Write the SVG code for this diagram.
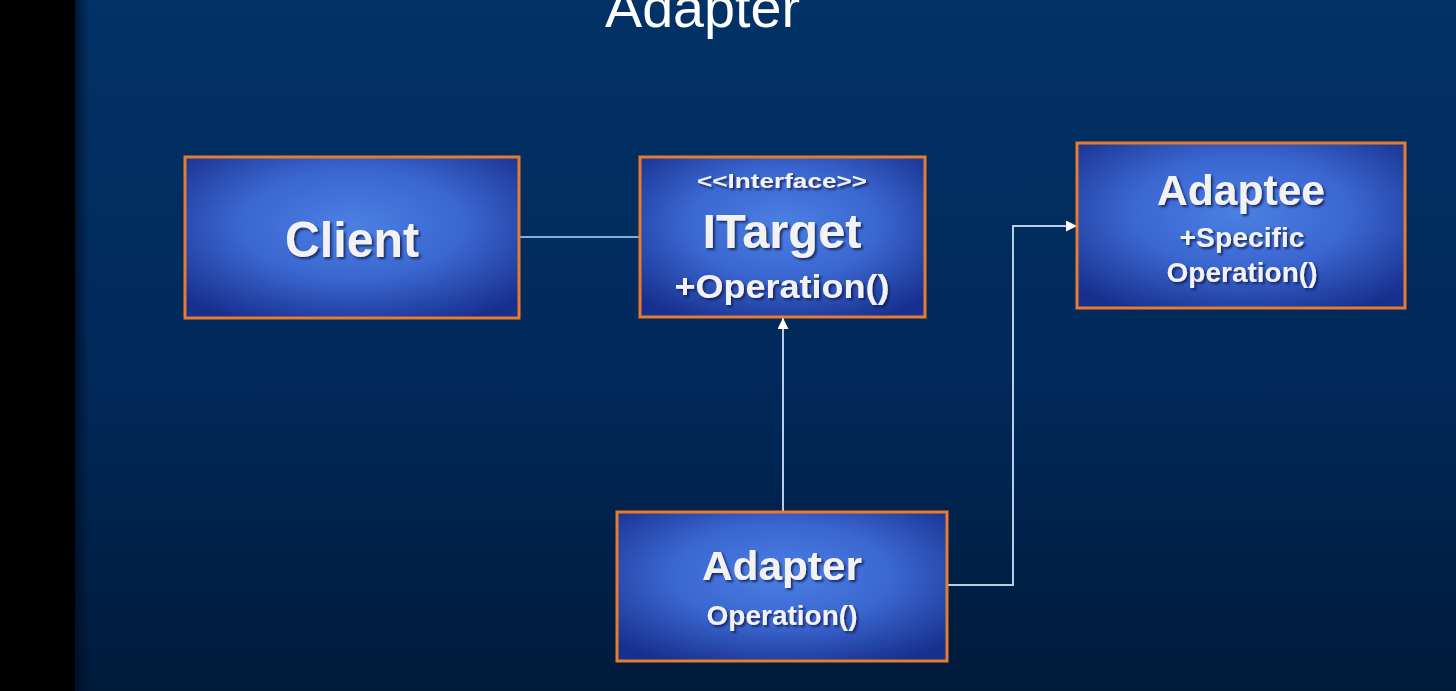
<svg xmlns="http://www.w3.org/2000/svg" width="1456" height="691" viewBox="0 0 1456 691">
  <defs>
    <linearGradient id="bg" x1="0" y1="0" x2="0" y2="1">
      <stop offset="0" stop-color="#023266"/>
      <stop offset="0.55" stop-color="#01295a"/>
      <stop offset="1" stop-color="#001a3a"/>
    </linearGradient>
    <linearGradient id="edge" x1="0" y1="0" x2="1" y2="0">
      <stop offset="0" stop-color="#000c20" stop-opacity="0.7"/>
      <stop offset="1" stop-color="#000c20" stop-opacity="0"/>
    </linearGradient>
    <radialGradient id="boxfill" cx="0.5" cy="0.42" r="0.68">
      <stop offset="0" stop-color="#4c80e3"/>
      <stop offset="0.5" stop-color="#3a66d0"/>
      <stop offset="1" stop-color="#17308e"/>
    </radialGradient>
    <filter id="shadow" x="-10%" y="-20%" width="120%" height="150%">
      <feDropShadow dx="2" dy="2" stdDeviation="1.2" flood-color="#0a1a50" flood-opacity="0.8"/>
    </filter>
    <marker id="arrow" viewBox="0 0 10 10" refX="10" refY="5" markerWidth="11" markerHeight="11" markerUnits="userSpaceOnUse" orient="auto">
      <path d="M0,0 L10,5 L0,10 Z" fill="#ffffff"/>
    </marker>
    <style>
      .box { fill: url(#boxfill); stroke: #e77b2e; stroke-width: 3; }
      .t { font-family: "Liberation Sans", Arial, sans-serif; font-weight: bold; fill: #f2f2f2; text-anchor: middle; filter: url(#shadow); }
      .title { font-family: "Liberation Sans", Arial, sans-serif; fill: #ffffff; font-size: 56px; }
      .conn { fill: none; stroke: #b8cce6; stroke-width: 2; }
      .assoc { fill: none; stroke: #7fb2da; stroke-width: 2; }
    </style>
  </defs>

  <rect x="0" y="0" width="1456" height="691" fill="url(#bg)"/>
  <rect x="75" y="0" width="14" height="691" fill="url(#edge)"/>
  <rect x="0" y="0" width="75" height="691" fill="#000000"/>

  <text class="title" x="605" y="27" textLength="195" lengthAdjust="spacingAndGlyphs">Adapter</text>

  <g id="connectors">
    <path class="assoc" d="M519,237 L640,237"/>
    <path class="conn" d="M783,512 L783,318" marker-end="url(#arrow)"/>
    <path class="conn" d="M947,585 L1013,585 L1013,226 L1077,226" marker-end="url(#arrow)"/>
  </g>

  <g id="client">
    <rect class="box" x="185" y="157" width="334" height="161"/>
    <text class="t" x="352" y="257" font-size="50" textLength="134" lengthAdjust="spacingAndGlyphs">Client</text>
  </g>

  <g id="itarget">
    <rect class="box" x="640" y="157" width="285" height="160"/>
    <text class="t" x="782" y="188" font-size="21" textLength="170" lengthAdjust="spacingAndGlyphs">&lt;&lt;Interface&gt;&gt;</text>
    <text class="t" x="782" y="248" font-size="48" textLength="159" lengthAdjust="spacingAndGlyphs">ITarget</text>
    <text class="t" x="782" y="298" font-size="33" textLength="215" lengthAdjust="spacingAndGlyphs">+Operation()</text>
  </g>

  <g id="adaptee">
    <rect class="box" x="1077" y="143" width="328" height="165"/>
    <text class="t" x="1241" y="205" font-size="42" textLength="168" lengthAdjust="spacingAndGlyphs">Adaptee</text>
    <text class="t" x="1242" y="247" font-size="27" textLength="125" lengthAdjust="spacingAndGlyphs">+Specific</text>
    <text class="t" x="1242" y="282" font-size="27" textLength="151" lengthAdjust="spacingAndGlyphs">Operation()</text>
  </g>

  <g id="adapter">
    <rect class="box" x="617" y="512" width="330" height="149"/>
    <text class="t" x="782" y="580" font-size="40" textLength="160" lengthAdjust="spacingAndGlyphs">Adapter</text>
    <text class="t" x="782" y="625" font-size="27" textLength="151" lengthAdjust="spacingAndGlyphs">Operation()</text>
  </g>
</svg>
